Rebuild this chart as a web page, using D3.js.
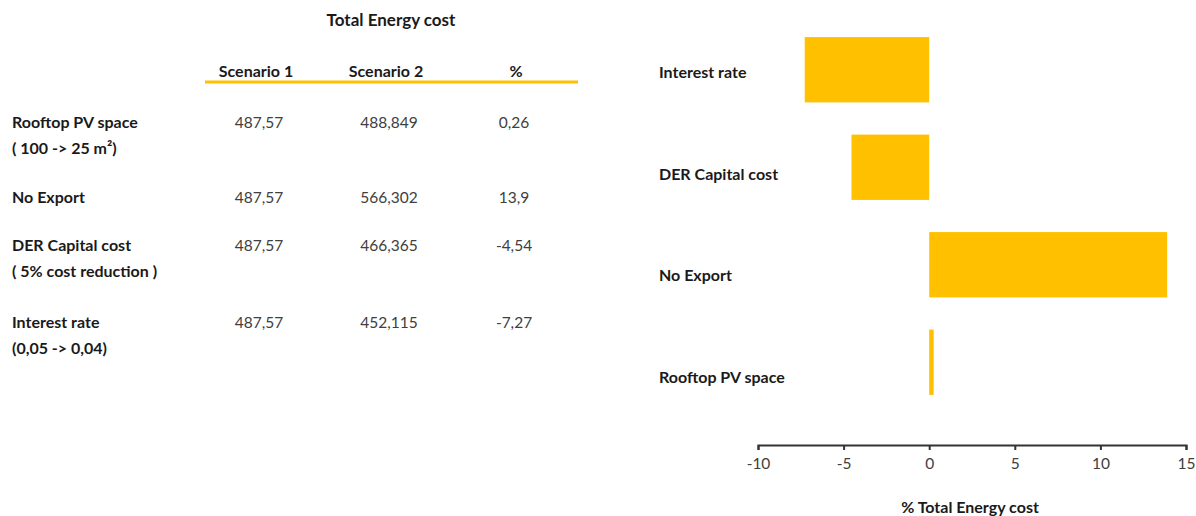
<!DOCTYPE html>
<html><head><meta charset="utf-8">
<script src="https://cdn.jsdelivr.net/npm/d3@7"></script>
<style>
body{margin:0;background:#fff;}
svg text{font-family:Lato,"Open Sans",sans-serif;}
</style></head>
<body><svg id="c" width="1196" height="516"></svg>
<script>
// ---- data ----
const tableTitle = "Total Energy cost";
const columns = ["Scenario 1", "Scenario 2", "%"];
const rowLabels = ["Rooftop PV space", "No Export", "DER Capital cost", "Interest rate"];
const rowSubLabels = ["( 100 -> 25 m²)", "", "( 5% cost reduction )", "(0,05 -> 0,04)"];
const scenario1 = ["487,57", "487,57", "487,57", "487,57"];
const scenario2 = ["488,849", "566,302", "466,365", "452,115"];
const pctText = ["0,26", "13,9", "-4,54", "-7,27"];

const barCategories = ["Interest rate", "DER Capital cost", "No Export", "Rooftop PV space"];
const barValues = [-7.27, -4.54, 13.9, 0.26];
const xTicks = [-10, -5, 0, 5, 10, 15];
const xTitle = "% Total Energy cost";

// ---- drawing ----
const svg = d3.select("#c");
const dark = "#1a1a1a", grey = "#404040", gold = "#FFC000";

// table
svg.append("text").attr("x", 391).attr("y", 26).attr("text-anchor", "middle")
  .attr("font-weight", "bold").attr("font-size", 17).attr("fill", dark).text(tableTitle);
const colX = d3.scalePoint().domain(columns).range([256, 516]);
svg.selectAll("text.hdr").data(columns).join("text").attr("class", "hdr")
  .attr("x", d => colX(d)).attr("y", 77).attr("text-anchor", "middle")
  .attr("font-weight", "bold").attr("font-size", 16).attr("fill", dark).text(d => d);
svg.append("line").attr("x1", 205).attr("x2", 578).attr("y1", 82).attr("y2", 82)
  .attr("stroke", gold).attr("stroke-width", 3);

const rowY = [128, 203, 251, 328];
rowLabels.forEach((lab, i) => {
  svg.append("text").attr("x", 12).attr("y", rowY[i]).attr("font-weight", "bold")
    .attr("font-size", 16).attr("fill", dark).text(lab);
  if (rowSubLabels[i]) svg.append("text").attr("x", 12).attr("y", rowY[i] + 26).attr("font-weight", "bold")
    .attr("font-size", 16).attr("fill", dark).text(rowSubLabels[i]);
  [scenario1[i], scenario2[i], pctText[i]].forEach((v, j) => {
    svg.append("text").attr("x", colX(columns[j]) + (j === 2 ? -2 : 3)).attr("y", rowY[i])
      .attr("text-anchor", "middle").attr("font-size", 15.5).attr("fill", grey).text(v);
  });
});

// bar chart
const x = d3.scaleLinear().domain([-10, 15]).range([758, 1186]);
const y = d3.scaleBand().domain(barCategories).range([21, 411]).paddingInner(0.33).paddingOuter(0.165);
const labelY = d3.scalePoint().domain(barCategories).range([72, 377]);

svg.selectAll("rect.bar").data(barValues).join("rect").attr("class", "bar")
  .attr("x", d => x(Math.min(0, d))).attr("width", d => Math.abs(x(d) - x(0)))
  .attr("y", (d, i) => y(barCategories[i])).attr("height", y.bandwidth()).attr("fill", gold);

svg.selectAll("text.cat").data(barCategories).join("text").attr("class", "cat")
  .attr("x", 659).attr("y", d => labelY(d) + 6)
  .attr("font-weight", "bold").attr("font-size", 16).attr("fill", dark).text(d => d);

const axis = d3.axisBottom(x).tickValues(xTicks).tickSize(5).tickSizeOuter(5).tickPadding(8)
  .tickFormat(d => String(d));
const ag = svg.append("g").attr("transform", "translate(0,445)").call(axis);
ag.select(".domain").attr("stroke", "#333").attr("stroke-width", 2);
ag.selectAll(".tick line").attr("stroke", "#333").attr("stroke-width", 2);
ag.selectAll(".tick text").attr("font-size", 15.5).attr("fill", grey)
  .style("font-family", "Lato, 'Open Sans', sans-serif");

svg.append("text").attr("x", 970).attr("y", 513).attr("text-anchor", "middle")
  .attr("font-weight", "bold").attr("font-size", 16).attr("fill", dark).text(xTitle);
</script></body></html>
